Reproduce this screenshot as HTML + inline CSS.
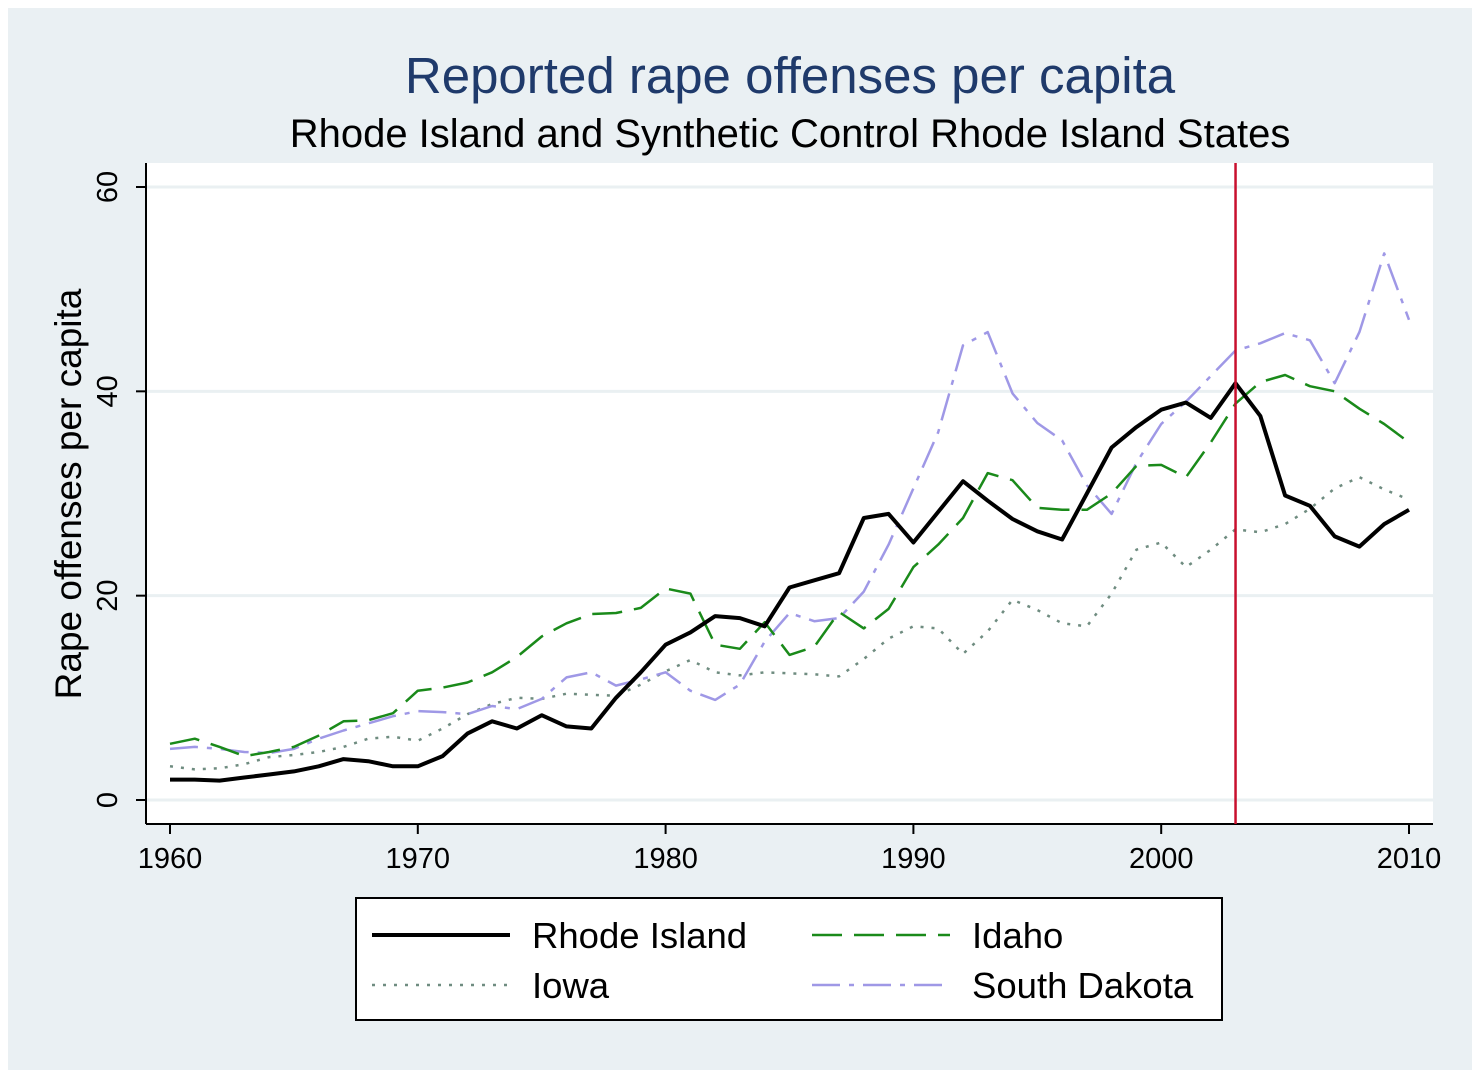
<!DOCTYPE html>
<html><head><meta charset="utf-8"><style>
body{margin:0;background:#fff;}
svg{display:block;font-family:"Liberation Sans",sans-serif;}
</style></head><body>
<svg id="chart" width="1484" height="1078" viewBox="0 0 1484 1078">
<rect x="8" y="8" width="1464" height="1062" fill="#eaf0f3"/>
<rect x="146" y="163" width="1287" height="661" fill="#fff"/>
<text x="790" y="93" text-anchor="middle" font-size="51" fill="#1f3a6b">Reported rape offenses per capita</text>
<text x="790" y="147" text-anchor="middle" font-size="40" fill="#000">Rhode Island and Synthetic Control Rhode Island States</text>
<g id="grid"></g><g id="axes"></g><g id="series"></g>
<rect x="356" y="898" width="866" height="122" fill="#fff" stroke="#000" stroke-width="2"/>
<g id="legend"></g>
</svg>
<script>
const years=[];for(let y=1960;y<=2010;y++)years.push(y);
const rhodeIsland=[2.0,2.0,1.9,2.2,2.5,2.8,3.3,4.0,3.8,3.3,3.3,4.3,6.5,7.7,7.0,8.3,7.2,7.0,10.0,12.5,15.2,16.4,18.0,17.8,17.0,20.8,21.5,22.2,27.6,28.0,25.2,28.2,31.2,29.3,27.5,26.3,25.5,30.0,34.5,36.5,38.2,38.9,37.4,40.8,37.6,29.8,28.8,25.8,24.8,27.0,28.4];
const idaho=[5.5,6.0,5.2,4.3,4.7,5.2,6.3,7.7,7.8,8.5,10.7,11.0,11.5,12.5,14.0,16.0,17.3,18.2,18.3,18.8,20.7,20.2,15.2,14.8,17.4,14.2,15.0,18.4,16.8,18.7,22.8,25.0,27.6,32.0,31.3,28.6,28.4,28.4,30.0,32.7,32.8,31.6,35.0,38.8,40.9,41.6,40.5,40.0,38.3,36.8,35.0];
const iowa=[3.3,3.0,3.1,3.5,4.2,4.4,4.7,5.2,6.0,6.2,5.8,7.0,8.4,9.4,10.0,9.9,10.4,10.3,10.2,11.3,12.6,13.7,12.5,12.2,12.5,12.4,12.3,12.1,13.8,15.8,17.0,16.8,14.3,16.5,19.6,18.6,17.3,17.0,20.2,24.5,25.2,22.8,24.5,26.5,26.2,27.0,28.5,30.5,31.6,30.4,29.4];
const southDakota=[5.0,5.2,5.0,4.7,4.6,5.0,6.0,6.8,7.5,8.2,8.7,8.6,8.4,9.2,8.9,9.9,12.0,12.5,11.2,11.8,12.5,10.7,9.8,11.3,15.5,18.3,17.5,17.8,20.4,25.0,30.5,36.0,44.5,45.8,39.8,36.9,35.2,30.8,28.0,33.0,36.8,39.0,41.5,44.0,44.7,45.7,45.0,40.8,45.8,53.5,47.0];
const yTicks=[0,20,40,60];
const xTicks=[1960,1970,1980,1990,2000,2010];
const treatmentYear=2003;
const NS="http://www.w3.org/2000/svg";
const X=v=>170+(v-1960)*(1409-170)/50;
const Y=v=>800-v*(800-187)/60;
function mk(tag,attrs,parent,text){const e=document.createElementNS(NS,tag);for(const k in attrs)e.setAttribute(k,attrs[k]);if(text!==undefined)e.textContent=text;document.getElementById(parent).appendChild(e);return e;}
yTicks.forEach(t=>{
 const g=mk('line',{x1:146,x2:1433,y1:Y(t),y2:Y(t),stroke:'#eaf0f2','stroke-width':3},'grid');
 
 
 const tk=mk('line',{x1:136,x2:146,y1:Y(t),y2:Y(t),stroke:'#000','stroke-width':2},'axes');
 
 
 const lb=mk('text',{x:0,y:0,transform:`translate(117,${Y(t)}) rotate(-90)`,'text-anchor':'middle','font-size':29},'axes',String(t));
 
 
});
xTicks.forEach(t=>{
 const tk=mk('line',{x1:X(t),x2:X(t),y1:824,y2:834,stroke:'#000','stroke-width':2},'axes');
 
 
 const lb=mk('text',{x:X(t),y:868,'text-anchor':'middle','font-size':29},'axes',String(t));
 
 
});
const ya=mk('line',{x1:146,x2:146,y1:163,y2:824,stroke:'#000','stroke-width':2},'axes');


const xa=mk('line',{x1:146,x2:1433,y1:824,y2:824,stroke:'#000','stroke-width':2},'axes');


const yt=mk('text',{x:0,y:0,transform:'translate(81,494) rotate(-90)','text-anchor':'middle','font-size':37},'axes','Rape offenses per capita');


const styles=[
 {name:'iowa',data:iowa,stroke:'#6f8c80',w:2.5,dash:'3,8',label:'Iowa'},
 {name:'south-dakota',data:southDakota,stroke:'#9f98e6',w:2.5,dash:'28,9,5,9',label:'South Dakota'},
 {name:'idaho',data:idaho,stroke:'#1a8a1a',w:2.5,dash:'30,12',label:'Idaho'},
 {name:'rhode-island',data:rhodeIsland,stroke:'#000',w:4,dash:'',label:'Rhode Island'}];
styles.forEach(s=>{
 const d=s.data.map((v,i)=>(i?'L':'M')+X(years[i]).toFixed(1)+','+Y(v).toFixed(1)).join('');
 const p=mk('path',{d,fill:'none',stroke:s.stroke,'stroke-width':s.w,'stroke-dasharray':s.dash,'stroke-linejoin':'round'},'series');
 
 
});
const rl=mk('line',{x1:X(treatmentYear),x2:X(treatmentYear),y1:163,y2:824,stroke:'#c8102e','stroke-width':2.5},'series');


const pos=[[372,937,'rhode-island'],[812,937,'idaho'],[372,987,'iowa'],[812,987,'south-dakota']];
pos.forEach(([x,y,n])=>{
 const s=styles.find(q=>q.name===n);
 const l=mk('line',{x1:x,x2:x+138,y1:y-2,y2:y-2,stroke:s.stroke,'stroke-width':s.w,'stroke-dasharray':s.dash},'legend');
 
 
 const t=mk('text',{x:x+160,y:y+11,'font-size':36.5},'legend',s.label);
 
 
});
</script>
</body></html>
